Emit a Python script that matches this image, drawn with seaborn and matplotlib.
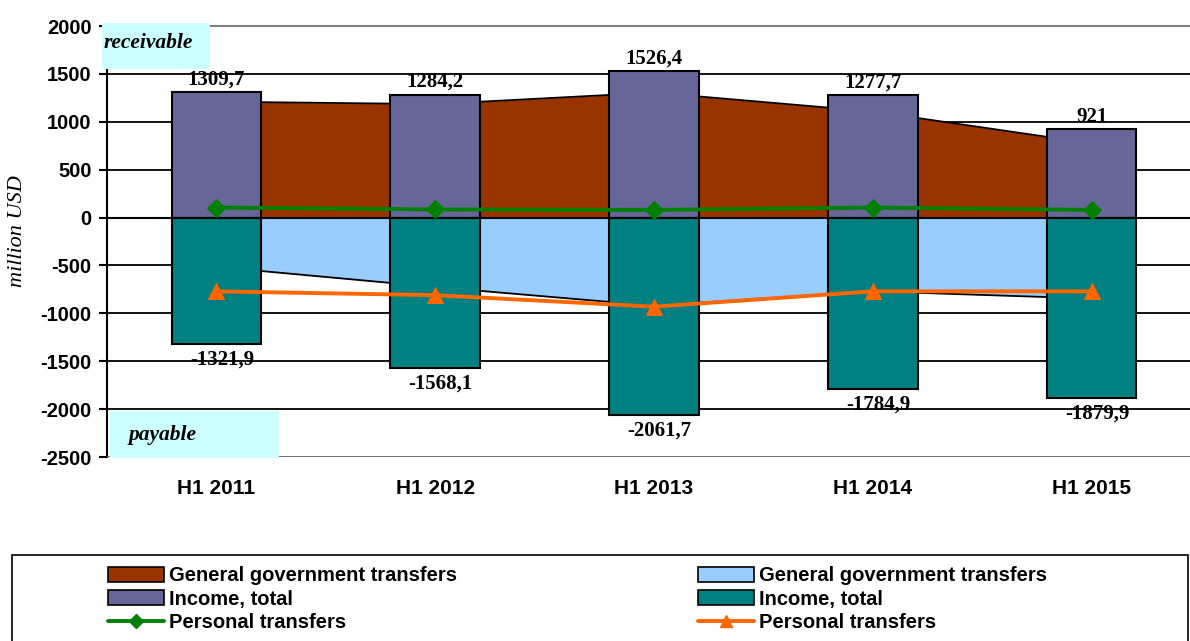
import numpy as np
import pandas as pd
import matplotlib.pyplot as plt
import seaborn as sns
from matplotlib.patches import Patch, Rectangle
from matplotlib.lines import Line2D

periods = ["H1 2011", "H1 2012", "H1 2013", "H1 2014", "H1 2015"]
income_rec = [1309.7, 1284.2, 1526.4, 1277.7, 921.0]
income_pay = [-1321.9, -1568.1, -2061.7, -1784.9, -1879.9]
gov_rec = [1210, 1185, 1305, 1108, 775]
gov_pay = [-515, -725, -920, -770, -845]
pers_rec = [105, 85, 80, 105, 80]
pers_pay = [-770, -810, -930, -770, -770]
yticks = [2000, 1500, 1000, 500, 0, -500, -1000, -1500, -2000, -2500]

c_gov_rec = "#993300"
c_gov_pay = "#99CCFF"
c_inc_rec = "#666699"
c_inc_pay = "#008080"
c_pers_rec = "#008000"
c_pers_pay = "#FF6600"

sns.set_style("white")
plt.rcParams["font.family"] = ["Liberation Sans", "DejaVu Sans"]
plt.rcParams["text.color"] = "black"
plt.rcParams["xtick.color"] = "black"
plt.rcParams["ytick.color"] = "black"
plt.rcParams["axes.labelcolor"] = "black"

df = pd.DataFrame({"period": periods, "inc_rec": income_rec, "inc_pay": income_pay})
idx = np.arange(len(periods))

fig = plt.figure(figsize=(11.9, 6.41), dpi=100)
ax = fig.add_axes([0.0899, 0.287, 0.9101, 0.6724])

# areas (general government transfers)
ax.fill_between(idx, gov_rec, 0, color=c_gov_rec, zorder=2, lw=0)
ax.plot(idx, gov_rec, color="black", lw=1.3, zorder=2.1)
ax.fill_between(idx, gov_pay, 0, color=c_gov_pay, zorder=2, lw=0)
ax.plot(idx, gov_pay, color="black", lw=1.3, zorder=2.1)

# bars (income, total)
sns.barplot(data=df, x="period", y="inc_rec", color=c_inc_rec, saturation=1, width=0.41,
            edgecolor="black", linewidth=1.5, errorbar=None, ax=ax, zorder=3)
sns.barplot(data=df, x="period", y="inc_pay", color=c_inc_pay, saturation=1, width=0.41,
            edgecolor="black", linewidth=1.5, errorbar=None, ax=ax, zorder=3)

# lines (personal transfers)
sns.lineplot(x=idx, y=pers_rec, color=c_pers_rec, lw=2.8, marker="D", markersize=9,
             markeredgecolor=c_pers_rec, ax=ax, zorder=5)
sns.lineplot(x=idx, y=pers_pay, color=c_pers_pay, lw=2.8, marker="^", markersize=11,
             markeredgecolor=c_pers_pay, ax=ax, zorder=5)

# value labels
for i, v in enumerate(income_rec):
    ax.annotate(f"{v:g}".replace(".", ","), (i, v), xytext=(0, 2), textcoords="offset points",
                ha="center", va="bottom", fontsize=15, fontweight="bold",
                family="Liberation Serif", zorder=6)
for i, v in enumerate(income_pay):
    ax.annotate(f"{v:g}".replace(".", ","), (i, v), xytext=(4, -4), textcoords="offset points",
                ha="center", va="top", fontsize=15, fontweight="bold",
                family="Liberation Serif", zorder=6)

ax.set_xlim(-0.5, 4.45)
ax.set_ylim(-2500, 2000)
ax.set_yticks(yticks)
ax.set_yticklabels([str(t) for t in yticks], fontsize=14.5, fontweight="bold")
ax.tick_params(axis="y", direction="out", length=6, width=1.5, pad=5, left=True)
ax.yaxis.grid(True, color="black", lw=1.3)
ax.set_axisbelow(True)

# category axis crosses at zero
ax.spines["bottom"].set_position(("data", 0))
ax.spines["bottom"].set_color("black")
ax.spines["bottom"].set_linewidth(1.5)
ax.spines["bottom"].set_zorder(3.5)
ax.spines["left"].set_color("black")
ax.spines["left"].set_linewidth(1.5)
ax.spines["top"].set_color("#808080")
ax.spines["top"].set_linewidth(1.5)
ax.spines["right"].set_visible(False)
ax.axhline(-2500, color="#808080", lw=2, zorder=3)
ax.set_xticks(idx)
ax.set_xticklabels([])
ax.tick_params(axis="x", which="major", length=0)
ax.set_xticks(idx[:-1] + 0.5, minor=True)
ax.tick_params(axis="x", which="minor", direction="out", length=6, width=1.5, bottom=True)
ax.set_xlabel("")
ax.set_ylabel("")

for i, p in enumerate(periods):
    ax.text(i, -0.072, p, transform=ax.get_xaxis_transform(), ha="center", va="center",
            fontsize=15, fontweight="bold")

fig.text(0.015, 0.64, "million USD", rotation=90, ha="center", va="center",
         fontsize=16, style="italic", family="Liberation Serif")

# receivable / payable tags
fig.patches.append(Rectangle((0.0857, 0.8924), 0.0908, 0.0718, transform=fig.transFigure,
                             facecolor="#CCFFFF", edgecolor="none", zorder=10))
fig.text(0.0874, 0.933, "receivable", ha="left", va="center", fontsize=15.5,
         fontweight="bold", style="italic", family="Liberation Serif", zorder=11)
fig.patches.append(Rectangle((0.0924, 0.2855), 0.142, 0.0733, transform=fig.transFigure,
                             facecolor="#CCFFFF", edgecolor="none", zorder=10))
fig.text(0.1076, 0.3214, "payable", ha="left", va="center", fontsize=15.5,
         fontweight="bold", style="italic", family="Liberation Serif", zorder=11)

# legend
fig.patches.append(Rectangle((0.0101, -0.01), 0.9882, 0.144, transform=fig.transFigure,
                             facecolor="white", edgecolor="black", lw=1.2, zorder=0))
h1 = [Patch(facecolor=c_gov_rec, edgecolor="black", lw=1.2),
      Patch(facecolor=c_inc_rec, edgecolor="black", lw=1.2),
      Line2D([], [], color=c_pers_rec, lw=2.8, marker="D", markersize=7)]
h2 = [Patch(facecolor=c_gov_pay, edgecolor="black", lw=1.2),
      Patch(facecolor=c_inc_pay, edgecolor="black", lw=1.2),
      Line2D([], [], color=c_pers_pay, lw=2.8, marker="^", markersize=9)]
labels = ["General government transfers", "Income, total", "Personal transfers"]
lkw = dict(loc="upper left", frameon=False, borderpad=0, borderaxespad=0,
           handlelength=2.8, handleheight=0.8, handletextpad=0.25, labelspacing=0.22,
           prop={"size": 14.5, "weight": "bold"})
fig.legend(h1, labels, bbox_to_anchor=(0.0908, 0.1165), **lkw)
fig.legend(h2, labels, bbox_to_anchor=(0.5866, 0.1165), **lkw)

fig.savefig("out.png", dpi=100)
